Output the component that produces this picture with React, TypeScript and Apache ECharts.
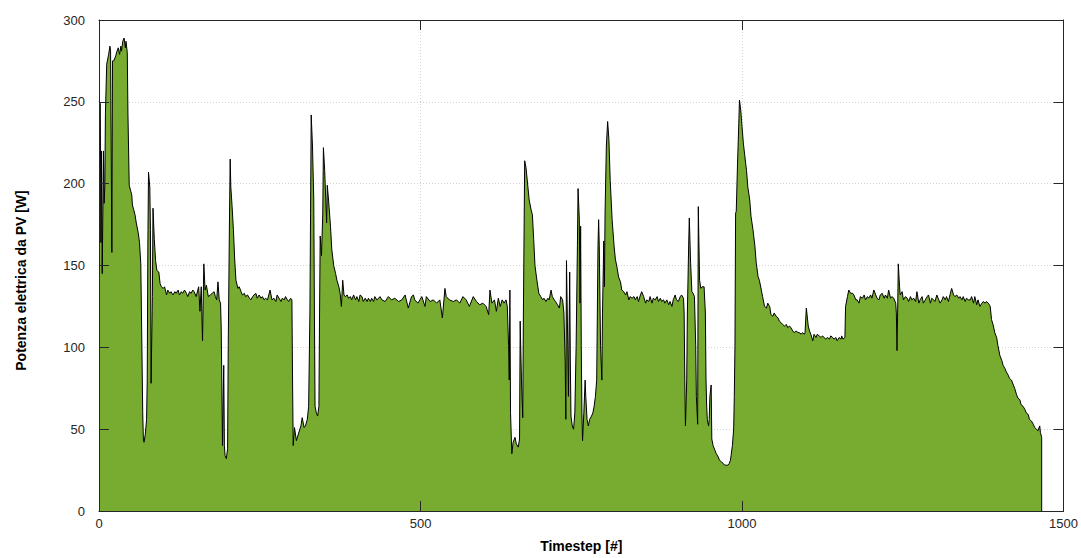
import React, { useEffect, useRef } from "react";
import * as echarts from "echarts";

// Timestep [#], Potenza [W] samples, by stretch of the run
const stretchA: [number, number][] = [
  [0, 250], [2, 249], [3, 164], [4, 220], [5, 145], [7, 220], [8, 188], [9, 198], [10, 243], [12, 273],
  [15, 279], [17, 284], [18, 281], [20, 158], [21, 275], [23, 275], [26, 278], [28, 281], [30, 283], [32, 279],
  [34, 284], [35, 281], [37, 287], [39, 289], [41, 283], [42, 287], [44, 280], [45, 243], [47, 199], [49, 196],
  [51, 193], [52, 187], [54, 184], [56, 181], [58, 176], [61, 170], [63, 164], [65, 151], [66, 121], [67, 91],
  [68, 60], [69, 44], [70, 42], [72, 47], [74, 56], [75, 80], [76, 162], [77, 207], [79, 198], [80, 172],
  [81, 78], [83, 131], [84, 185], [86, 166], [88, 153], [90, 147], [93, 146], [95, 139], [97, 137], [100, 136],
  [102, 137], [105, 132], [107, 135], [110, 133], [112, 134], [115, 132], [118, 134], [120, 133], [123, 135],
  [125, 132], [128, 134], [130, 133], [133, 135], [136, 133], [138, 131], [141, 134], [143, 133], [146, 135],
];

const stretchB: [number, number][] = [
  [148, 134], [151, 131], [155, 137], [157, 122], [159, 137], [161, 104], [163, 151], [165, 135], [167, 138],
  [170, 131], [173, 132], [176, 133], [179, 134], [181, 131], [183, 129], [185, 140], [187, 129], [189, 127],
  [190, 113], [191, 80], [192, 40], [194, 89], [195, 40], [196, 34], [198, 32], [200, 38], [201, 101], [203, 182],
  [204, 215], [205, 198], [207, 186], [209, 172], [211, 154], [213, 141], [216, 136], [218, 137], [221, 134],
  [223, 132], [226, 133], [228, 131], [231, 132], [234, 130], [236, 129], [239, 131], [241, 132], [244, 133],
  [246, 130], [249, 132], [252, 130], [254, 131], [257, 129], [259, 130], [262, 129], [264, 132], [266, 135],
  [269, 129], [272, 130], [275, 128], [277, 132], [280, 130], [283, 128], [285, 130], [288, 129], [290, 131],
  [293, 129], [295, 128], [298, 130],
];

const stretchC: [number, number][] = [
  [300, 129], [301, 80], [302, 40], [304, 51], [307, 43], [310, 47], [314, 52], [316, 57], [319, 51], [321, 52],
  [324, 56], [326, 64], [328, 121], [329, 182], [330, 242], [332, 223], [334, 190], [335, 121], [336, 64],
  [338, 60], [340, 58], [342, 64], [343, 121], [344, 168], [346, 156], [348, 182], [349, 222], [351, 208],
  [354, 176], [355, 199], [357, 190], [360, 174], [362, 160], [365, 150], [368, 145], [370, 141], [373, 137],
  [375, 133], [377, 125], [379, 141], [381, 132], [383, 131], [386, 132], [388, 130], [391, 131], [393, 129],
  [396, 132], [399, 129], [401, 131], [404, 128], [406, 132], [409, 131], [411, 128], [414, 130], [417, 128],
  [419, 130], [422, 128], [424, 130], [427, 128], [429, 131], [432, 129], [435, 130], [437, 131], [440, 129],
];

const stretchD: [number, number][] = [
  [445, 128], [450, 131], [455, 129], [460, 130], [466, 128], [471, 129], [476, 132], [481, 124], [486, 131],
  [489, 132], [491, 129], [496, 127], [502, 131], [507, 125], [509, 131], [515, 128], [520, 129], [525, 127],
  [530, 129], [534, 118], [538, 136], [540, 131], [545, 129], [551, 128], [556, 129], [561, 127], [566, 131],
  [571, 129], [576, 125], [582, 131], [587, 128],
];

const stretchE: [number, number][] = [
  [592, 126], [597, 127], [602, 125], [606, 120], [608, 135], [611, 127], [615, 129], [618, 122], [621, 130],
  [624, 125], [627, 129], [630, 127], [633, 129], [635, 125], [637, 101], [638, 80], [639, 135], [640, 60],
  [642, 35], [644, 42], [647, 45], [649, 41], [652, 39], [654, 44], [655, 116], [657, 80], [659, 57], [660, 121],
  [662, 214], [664, 210], [667, 198], [669, 190], [672, 184], [674, 181], [676, 166], [678, 150], [681, 141],
  [684, 133], [687, 131], [690, 129], [692, 130], [695, 128], [698, 130], [700, 129], [703, 135], [705, 131],
  [708, 129], [710, 128], [713, 126], [716, 124], [718, 131], [721, 129], [723, 121], [725, 91], [726, 56],
  [727, 153], [729, 101], [730, 70], [732, 146], [733, 91], [734, 58], [736, 52],
];

const stretchF: [number, number][] = [
  [738, 50], [740, 60], [742, 101], [744, 162], [745, 197], [747, 178], [748, 127], [749, 174], [750, 101],
  [751, 60], [752, 43], [754, 60], [756, 80], [757, 70], [759, 56], [761, 52], [763, 56], [766, 58], [768, 60],
  [770, 64], [772, 70], [774, 80], [775, 121], [776, 162], [777, 178], [778, 162], [780, 101], [782, 80],
  [783, 121], [785, 165], [786, 137], [787, 182], [789, 223], [791, 238], [793, 227], [795, 202], [798, 178],
  [801, 162], [803, 154], [806, 148], [808, 143], [811, 140], [813, 135], [816, 134], [819, 132], [821, 134],
  [824, 129], [826, 131], [829, 130], [832, 131], [834, 129], [837, 131], [839, 128], [842, 132], [844, 134],
  [847, 131], [850, 127], [852, 129], [855, 128], [857, 131], [860, 127], [862, 130], [865, 129], [868, 131],
  [870, 128], [873, 130], [875, 128], [878, 129], [880, 127],
];

const stretchG: [number, number][] = [
  [883, 129], [886, 126], [888, 128], [891, 125], [893, 129], [896, 132], [898, 129], [901, 128], [904, 131],
  [906, 132], [909, 130], [910, 121], [911, 80], [912, 52], [914, 80], [915, 121], [917, 162], [918, 179],
  [920, 152], [922, 134], [924, 133], [926, 131], [928, 101], [929, 70], [931, 53], [932, 186], [934, 141],
  [936, 136], [938, 137], [941, 137], [943, 121], [944, 80], [945, 64], [946, 56], [948, 52], [949, 56],
  [950, 70], [952, 77], [953, 44], [955, 40], [958, 37], [960, 35], [963, 33], [965, 31], [968, 30], [971, 29],
  [973, 28], [976, 28], [978, 28], [980, 29], [982, 31], [983, 34], [985, 40], [987, 50], [988, 70], [989, 101],
  [990, 182], [991, 183], [993, 212], [995, 237], [996, 251], [998, 245], [1000, 235], [1002, 225], [1004, 218],
  [1007, 208], [1009, 198], [1012, 190], [1014, 180], [1017, 172], [1020, 162], [1022, 152], [1025, 143],
  [1027, 141],
];

const stretchH: [number, number][] = [
  [1030, 135], [1032, 131], [1035, 125], [1038, 124], [1040, 127], [1043, 125], [1045, 120], [1048, 119],
  [1050, 121], [1053, 119], [1056, 118], [1058, 116], [1061, 115], [1063, 114], [1066, 113], [1069, 114],
  [1071, 112], [1074, 113], [1076, 112], [1079, 110], [1081, 109], [1084, 110], [1087, 109], [1089, 109],
  [1092, 108], [1094, 109], [1097, 108], [1098, 109], [1100, 124], [1103, 113], [1105, 110], [1107, 108],
  [1110, 104], [1112, 108], [1115, 106], [1117, 108], [1120, 107], [1123, 106], [1125, 107], [1128, 106],
  [1130, 105], [1133, 106], [1136, 105], [1138, 107], [1141, 106], [1143, 105], [1146, 106], [1148, 104],
  [1151, 106], [1154, 105], [1155, 107], [1157, 105], [1160, 106], [1161, 125], [1164, 131], [1166, 135],
  [1169, 133], [1172, 133], [1174, 132], [1177, 129],
];

const stretchI: [number, number][] = [
  [1179, 129], [1182, 127], [1184, 131], [1187, 130], [1190, 132], [1192, 129], [1195, 131], [1197, 130],
  [1200, 132], [1202, 130], [1205, 135], [1208, 132], [1210, 130], [1213, 129], [1215, 132], [1218, 133],
  [1221, 130], [1223, 132], [1226, 130], [1228, 135], [1231, 130], [1233, 131], [1236, 130], [1239, 127],
  [1240, 121], [1241, 98], [1242, 121], [1243, 151], [1245, 137], [1246, 132], [1249, 134], [1251, 129],
  [1254, 131], [1257, 130], [1259, 128], [1262, 131], [1264, 129], [1267, 130], [1270, 128], [1272, 134],
  [1275, 127], [1277, 129], [1280, 131], [1282, 127], [1285, 129], [1288, 131], [1290, 132], [1293, 127],
  [1295, 130], [1298, 129], [1300, 128], [1303, 132], [1306, 129], [1308, 127], [1311, 129], [1313, 131],
  [1316, 129], [1318, 131],
];

const stretchJ: [number, number][] = [
  [1321, 128], [1324, 133], [1326, 136], [1329, 132], [1331, 131], [1334, 132], [1337, 130], [1339, 131],
  [1342, 129], [1344, 131], [1347, 128], [1349, 130], [1352, 129], [1355, 129], [1357, 131], [1360, 127],
  [1362, 131], [1365, 126], [1367, 129], [1370, 125], [1373, 127], [1375, 128], [1378, 127], [1380, 128],
  [1383, 127], [1386, 125], [1388, 117], [1391, 113], [1393, 109], [1396, 106], [1398, 101], [1401, 95],
  [1404, 92], [1406, 89], [1409, 87], [1411, 85], [1414, 83], [1416, 81], [1419, 80], [1422, 77], [1424, 75],
  [1427, 71], [1429, 69], [1432, 68], [1434, 65], [1437, 64], [1440, 62], [1442, 60], [1445, 59], [1447, 56],
  [1450, 55], [1453, 53], [1455, 51], [1458, 50], [1460, 49], [1463, 52], [1464, 48], [1466, 45], [1466, 0],
];

const xTicks = { min: 0, max: 1500, interval: 500 };
const yTicks = { min: 0, max: 300, interval: 50 };

const xTitle = "Timestep [#]";
const yTitle = "Potenza elettrica da PV [W]";

export default function App() {
  const ref = useRef<HTMLDivElement>(null);

  useEffect(() => {
    if (!ref.current) return;
    const chart = echarts.init(ref.current, undefined, { renderer: "svg" });
    const data = [
      ...stretchA, ...stretchB, ...stretchC, ...stretchD, ...stretchE,
      ...stretchF, ...stretchG, ...stretchH, ...stretchI, ...stretchJ,
    ];
    const font = "'Liberation Sans', Arial, Helvetica, sans-serif";
    const frame = { color: "#262626", width: 1 };
    const grid = { type: [1, 2], color: "#d2d2d2", width: 1 };
    const tick = { show: true, inside: true, length: 10, lineStyle: frame };
    const plain = (v: number) => String(v);

    chart.setOption({
      animation: false,
      backgroundColor: "#ffffff",
      grid: { left: 99, right: 13, top: 20, bottom: 44, containLabel: false },
      xAxis: [
        {
          type: "value", ...xTicks, position: "bottom", z: 0,
          name: xTitle, nameLocation: "middle", nameGap: 28,
          nameTextStyle: { fontFamily: font, fontSize: 14, fontWeight: "bold", color: "#000" },
          axisLine: { show: false }, axisTick: { show: false },
          axisLabel: { show: true, margin: 6, fontFamily: font, fontSize: 13, color: "#262626", formatter: plain },
          splitLine: { show: true, lineStyle: grid },
        },
        {
          type: "value", ...xTicks, position: "bottom", z: 10,
          axisLine: { show: true, onZero: false, lineStyle: frame }, axisTick: tick,
          axisLabel: { show: false }, splitLine: { show: false },
        },
        {
          type: "value", ...xTicks, position: "top", z: 10,
          axisLine: { show: true, onZero: false, lineStyle: frame }, axisTick: tick,
          axisLabel: { show: false }, splitLine: { show: false },
        },
      ],
      yAxis: [
        {
          type: "value", ...yTicks, position: "left", z: 0,
          name: yTitle, nameLocation: "middle", nameGap: 71, nameRotate: 90,
          nameTextStyle: { fontFamily: font, fontSize: 14, fontWeight: "bold", color: "#000", padding: [0, 30, 0, 0] },
          axisLine: { show: false }, axisTick: { show: false },
          axisLabel: { show: true, margin: 14, fontFamily: font, fontSize: 13, color: "#262626", formatter: plain },
          splitLine: { show: true, lineStyle: grid },
        },
        {
          type: "value", ...yTicks, position: "left", z: 10,
          axisLine: { show: true, onZero: false, lineStyle: frame }, axisTick: tick,
          axisLabel: { show: false }, splitLine: { show: false },
        },
        {
          type: "value", ...yTicks, position: "right", z: 10,
          axisLine: { show: true, onZero: false, lineStyle: frame }, axisTick: tick,
          axisLabel: { show: false }, splitLine: { show: false },
        },
      ],
      series: [
        {
          type: "line",
          xAxisIndex: 0,
          yAxisIndex: 0,
          data,
          showSymbol: false,
          symbol: "none",
          silent: true,
          z: 2,
          lineStyle: { color: "#000000", width: 1 },
          areaStyle: { color: "#77AC30", opacity: 1 },
        },
      ],
    });
    return () => chart.dispose();
  }, []);

  return (
    <div
      ref={ref}
      style={{ position: "absolute", left: 0, top: 0, width: 1081, height: 558 }}
    />
  );
}
